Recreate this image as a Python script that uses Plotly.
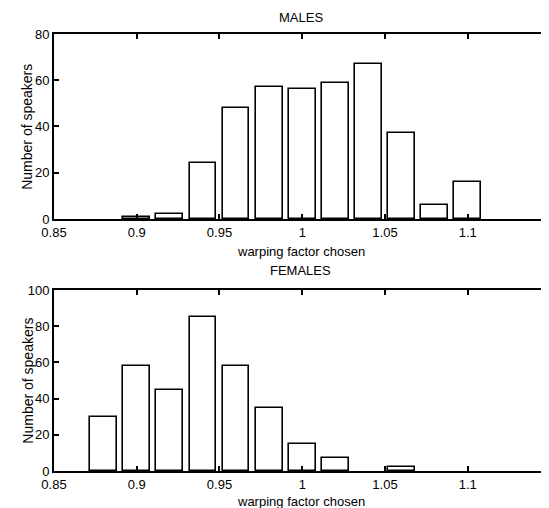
import plotly.graph_objects as go

warp_factors = [0.88, 0.90, 0.92, 0.94, 0.96, 0.98, 1.00, 1.02, 1.04, 1.06, 1.08, 1.10, 1.12]
males = [0, 1, 2, 24, 48, 57, 56, 59, 67, 37, 6, 16, 0]
females = [30, 58, 45, 85, 58, 35, 15, 7, 0, 2, 0, 0, 0]

x_tickvals = [0.85, 0.9, 0.95, 1.0, 1.05, 1.1]
x_ticktext = ["0.85", "0.9", "0.95", "1", "1.05", "1.1"]
male_yticks = [0, 20, 40, 60, 80]
female_yticks = [0, 20, 40, 60, 80, 100]

FONT = "Liberation Sans, Arial, sans-serif"
bar_style = dict(color="white", line=dict(color="black", width=1.6))


def nonzero(xs, ys):
    pairs = [(x, y) for x, y in zip(xs, ys) if y > 0]
    return [p[0] for p in pairs], [p[1] for p in pairs]


mx, my = nonzero(warp_factors, males)
fx, fy = nonzero(warp_factors, females)

fig = go.Figure()
fig.add_trace(go.Bar(x=mx, y=my, width=0.0162, marker=bar_style,
                     xaxis="x", yaxis="y", showlegend=False))
fig.add_trace(go.Bar(x=fx, y=fy, width=0.0162, marker=bar_style,
                     xaxis="x2", yaxis="y2", showlegend=False))

axis_common = dict(showline=True, linecolor="black", linewidth=2, mirror="ticks",
                   ticks="inside", ticklen=5, tickwidth=1.5, tickcolor="black",
                   showgrid=False, zeroline=False,
                   tickfont=dict(family=FONT, size=13, color="black"))

xr = [0.85, 1.1479]
fig.update_layout(
    width=541, height=500,
    margin=dict(l=46, r=0, t=26, b=37),
    paper_bgcolor="white", plot_bgcolor="white",
    bargap=0,
    xaxis=dict(domain=[0, 1], range=xr, tickvals=x_tickvals, ticktext=x_ticktext,
               anchor="y", **axis_common),
    yaxis=dict(domain=[0.5767, 1], range=[0, 80], tickvals=male_yticks,
               anchor="x", **axis_common),
    xaxis2=dict(domain=[0, 1], range=xr, tickvals=x_tickvals, ticktext=x_ticktext,
                anchor="y2", **axis_common),
    yaxis2=dict(domain=[0, 0.4142], range=[0, 100], tickvals=female_yticks,
                anchor="x2", **axis_common),
)

tf = dict(family=FONT, size=13, color="black")
ann = [
    dict(text="MALES", x=0.5, y=1.0378, xref="paper", yref="paper", showarrow=False,
         xanchor="center", yanchor="middle", font=tf),
    dict(text="FEMALES", x=0.5, y=0.4577, xref="paper", yref="paper", showarrow=False,
         xanchor="center", yanchor="middle", font=tf),
    dict(text="warping factor chosen", x=0.5, y=0.5018, xref="paper", yref="paper",
         showarrow=False, xanchor="center", yanchor="middle", font=tf),
    dict(text="warping factor chosen", x=0.5, y=-0.0709, xref="paper", yref="paper",
         showarrow=False, xanchor="center", yanchor="middle", font=tf),
    dict(text="Number of speakers", x=-0.0545, y=0.788, xref="paper", yref="paper",
         showarrow=False, textangle=-90, xanchor="center", yanchor="middle",
         font=dict(family=FONT, size=14, color="black")),
    dict(text="Number of speakers", x=-0.0545, y=0.207, xref="paper", yref="paper",
         showarrow=False, textangle=-90, xanchor="center", yanchor="middle",
         font=dict(family=FONT, size=14, color="black")),
]
fig.update_layout(annotations=ann)

fig.write_html("out.html")
